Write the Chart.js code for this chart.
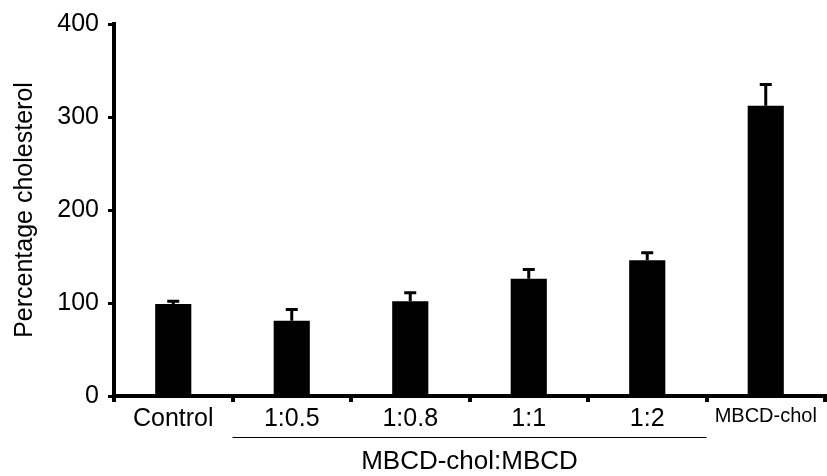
<!DOCTYPE html>
<html>
<head>
<meta charset="utf-8">
<script src="https://cdn.jsdelivr.net/npm/chart.js@4/dist/chart.umd.min.js"></script>
<style>
  html, body { margin: 0; padding: 0; background: #fff; }
  #wrap { width: 827px; height: 476px; }
</style>
</head>
<body>
<div id="wrap"><canvas id="mycanvas" width="827" height="476"></canvas></div>
<script>
// data
var categories = ["Control", "1:0.5", "1:0.8", "1:1", "1:2", "MBCD-chol"];
var means = [99, 81, 102, 126, 146, 312];
var errors = [3, 12, 9, 10, 8, 23];
var yTicks = [0, 100, 200, 300, 400];
var groupLabel = "MBCD-chol:MBCD";
var groupFrom = 1;
var groupTo = 4;

var font = "'Liberation Sans', Arial, sans-serif";

// upper error bars, placed through the chart scales
var errorBars = {
  id: "errorBars",
  afterDatasetsDraw: function(chart) {
    var ctx = chart.ctx;
    var x = chart.scales.x, y = chart.scales.y;
    ctx.save();
    ctx.strokeStyle = "#000";
    ctx.lineWidth = 3;
    for (var i = 0; i < means.length; i++) {
      var cx = x.getPixelForValue(i);
      var top = y.getPixelForValue(means[i]);
      var hi = y.getPixelForValue(means[i] + errors[i]);
      ctx.beginPath();
      ctx.moveTo(cx, top);
      ctx.lineTo(cx, hi);
      ctx.moveTo(cx - 6, hi);
      ctx.lineTo(cx + 6, hi);
      ctx.stroke();
    }
    ctx.restore();
  }
};

// group bracket under the ratio categories
var groupBracket = {
  id: "groupBracket",
  afterDraw: function(chart) {
    var ctx = chart.ctx;
    var x = chart.scales.x;
    var half = (x.getPixelForValue(1) - x.getPixelForValue(0)) / 2;
    var x1 = x.getPixelForValue(groupFrom) - half;
    var x2 = x.getPixelForValue(groupTo) + half;
    var ly = x.top + 41;
    ctx.save();
    ctx.strokeStyle = "#000";
    ctx.lineWidth = 1;
    ctx.beginPath();
    ctx.moveTo(x1, ly + 0.5);
    ctx.lineTo(x2, ly + 0.5);
    ctx.stroke();
    ctx.fillStyle = "#000";
    ctx.font = "26px " + font;
    ctx.textAlign = "center";
    ctx.textBaseline = "middle";
    ctx.fillText(groupLabel, (x1 + x2) / 2, ly + 25);
    ctx.restore();
  }
};

var chartdata = {
  labels: categories,
  datasets: [
    {
      label: "Percentage cholesterol",
      backgroundColor: "#000",
      borderWidth: 0,
      data: means
    }
  ]
};

new Chart(document.getElementById("mycanvas"), {
  type: "bar",
  data: chartdata,
  plugins: [errorBars, groupBracket],
  options: {
    responsive: false,
    animation: false,
    layout: { padding: { top: 24, right: 2, left: 0, bottom: 0 } },
    datasets: { bar: { categoryPercentage: 1, barPercentage: 0.305 } },
    plugins: { legend: { display: false }, tooltip: { enabled: false } },
    scales: {
      x: {
        afterFit: function(s) { s.height = 80; },
        border: { color: "#000", width: 4 },
        grid: { offset: true, drawOnChartArea: false, color: "#000", lineWidth: 4, tickLength: 6 },
        ticks: {
          color: "#000",
          padding: 2,
          autoSkip: false,
          maxRotation: 0,
          font: function(c) {
            return { family: font, size: c.index === 5 ? 20 : 25 };
          }
        }
      },
      y: {
        min: 0,
        max: 400,
        afterFit: function(s) { s.width = 114; },
        afterBuildTicks: function(s) {
          s.ticks = yTicks.map(function(v) { return { value: v }; });
        },
        border: { color: "#000", width: 4 },
        grid: { drawOnChartArea: false, color: "#000", lineWidth: 3, tickLength: 6 },
        ticks: { color: "#000", padding: 9, font: { family: font, size: 25 } },
        title: {
          display: true,
          text: "Percentage cholesterol",
          color: "#000",
          padding: { top: 10, bottom: 0 },
          font: { family: font, size: 25 }
        }
      }
    }
  }
});
</script>
</body>
</html>
